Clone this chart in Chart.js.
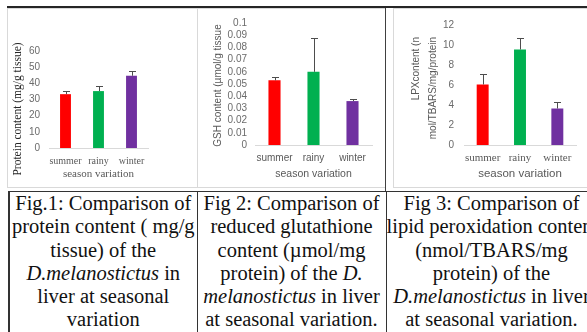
<!DOCTYPE html>
<html lang="en">
<head>
<meta charset="UTF-8">
<title>Seasonal variation - D. melanostictus liver</title>
<style>
  html, body { margin: 0; padding: 0; background: #fff; overflow: hidden; width: 587px; height: 332px; }
  .line { position: absolute; box-sizing: border-box; }
  canvas { position: absolute; }
  table.cap {
    position: absolute; left: 8px; top: 191px; width: 588px;
    border-collapse: collapse; table-layout: fixed;
    font-family: "Liberation Serif", "Times New Roman", serif;
    font-size: 20.5px; line-height: 23.3px; letter-spacing: 0; color: #111;
  }
  table.cap td {
    border: 1px solid #333; padding: 0; text-align: center; vertical-align: top;
    white-space: nowrap; overflow: hidden; height: 150px;
  }
  table.cap td:first-child { border-left: 2px solid #333; }
</style>
</head>
<body>
  <div class="line" style="left:7px;top:6px;width:580px;height:2px;background:#262626"></div>
  <div class="line" style="left:7px;top:8px;width:191px;height:180px;border:1px solid #d9d9d9"></div>
  <div class="line" style="left:197px;top:8px;width:189px;height:180px;border:1px solid #d9d9d9"></div>
  <div class="line" style="left:385px;top:8px;width:1px;height:184px;background:#404040"></div>
  <div class="line" style="left:393px;top:8px;width:200px;height:180px;border:1px solid #d9d9d9"></div>

  <canvas id="protein" width="189" height="178" style="left:8px;top:9px"></canvas>
  <canvas id="gsh" width="186" height="178" style="left:198px;top:9px"></canvas>
  <canvas id="lpx" width="193" height="178" style="left:394px;top:9px"></canvas>

  <table class="cap">
    <colgroup><col style="width:188px"><col style="width:189px"><col style="width:211px"></colgroup>
    <tr>
      <td>Fig.1: Comparison of<br>protein content ( mg/g<br>tissue) of the<br><i>D.melanostictus</i> in<br>liver at seasonal<br>variation</td>
      <td>Fig 2: Comparison of<br>reduced glutathione<br>content (µmol/mg<br>protein) of the <i>D.</i><br><i>melanostictus</i> in liver<br>at seasonal variation.</td>
      <td>Fig 3: Comparison of<br>lipid peroxidation content<br>(nmol/TBARS/mg<br>protein) of the<br><i>D.melanostictus</i> in liver<br>at seasonal variation.</td>
    </tr>
  </table>

  <script src="https://cdn.jsdelivr.net/npm/chart.js@4.4.1/dist/chart.umd.min.js"></script>
  <script>
    const seasons = ['summer', 'rainy', 'winter'];
    const barColors = ['#ff0000', '#00b050', '#7030a0'];

    const proteinMeans = [33.3, 35.2, 44.7];
    const proteinErrors = [2.1, 3.1, 3.1];

    const gshMeans = [0.053, 0.060, 0.036];
    const gshErrors = [0.0025, 0.028, 0.002];

    const lpxMeans = [6.05, 9.55, 3.65];
    const lpxErrors = [1.1, 1.15, 0.65];

    const SANS = '"Liberation Sans", Arial, sans-serif';
    const SERIF = '"Liberation Serif", "Times New Roman", serif';

    // plus-only error bars, taken from the y scale
    const errorBars = {
      id: 'errorBars',
      afterDatasetsDraw(chart, args, opts) {
        const ctx = chart.ctx, y = chart.scales.y;
        const vals = chart.data.datasets[0].data;
        chart.getDatasetMeta(0).data.forEach((bar, i) => {
          const top = Math.round(y.getPixelForValue(vals[i] + opts.errors[i])) + 0.5;
          const x = Math.round(bar.x) + 0.5;
          ctx.save();
          ctx.strokeStyle = '#4d4d4d';
          ctx.lineWidth = 1;
          ctx.beginPath();
          ctx.moveTo(x, bar.y);
          ctx.lineTo(x, top);
          ctx.moveTo(x - 3.5, top);
          ctx.lineTo(x + 3.5, top);
          ctx.stroke();
          ctx.restore();
        });
      }
    };

    // axis titles placed against the chart area
    const axisText = {
      id: 'axisText',
      afterDraw(chart, args, o) {
        const ctx = chart.ctx, a = chart.chartArea;
        ctx.save();
        ctx.fillStyle = o.xColor;
        ctx.font = o.xFont;
        ctx.textAlign = 'center';
        ctx.textBaseline = 'middle';
        ctx.fillText(o.xTitle, (a.left + a.right) / 2, a.bottom + o.xOffset);
        ctx.fillStyle = o.yColor;
        ctx.font = o.yFont;
        o.yLines.forEach(l => {
          ctx.save();
          const cy = o.yAlign === 'end' ? a.top + o.yOffset : (a.top + a.bottom) / 2 + o.yOffset;
          ctx.translate(a.left + l.dx, cy);
          ctx.rotate(-Math.PI / 2);
          ctx.textAlign = o.yAlign === 'end' ? 'right' : 'center';
          ctx.fillText(l.text, 0, 0);
          ctx.restore();
        });
        ctx.restore();
      }
    };

    function build(id, means, errors, c) {
      new Chart(document.getElementById(id), {
        type: 'bar',
        data: {
          labels: seasons,
          datasets: [{
            data: means,
            backgroundColor: barColors,
            borderWidth: 0,
            barPercentage: c.barPct,
            categoryPercentage: 1
          }]
        },
        options: {
          responsive: false,
          animation: false,
          events: [],
          layout: { padding: c.padding },
          plugins: {
            legend: { display: false },
            tooltip: { enabled: false },
            errorBars: { errors: errors },
            axisText: c.text
          },
          scales: {
            x: {
              grid: { display: false, drawTicks: false },
              border: { display: true, color: '#d9d9d9', width: 1 },
              ticks: { color: '#595959', padding: 7, font: c.xTickFont, maxRotation: 0, autoSkip: false },
              afterFit(s) { s.height = 30; }
            },
            y: {
              min: 0, max: c.max,
              grid: { display: false, drawTicks: false },
              border: { display: false },
              ticks: {
                stepSize: c.step, color: '#6b6b6b', padding: c.tickPad, autoSkip: false,
                font: { family: SANS, size: 10 },
                callback: v => String(+v.toFixed(3))
              },
              afterFit(s) { s.width = c.yWidth; }
            }
          }
        },
        plugins: [errorBars, axisText]
      });
    }

    build('protein', proteinMeans, proteinErrors, {
      max: 60, step: 10, barPct: 0.33, yWidth: 30, tickPad: 9,
      padding: { left: 11, right: 49, top: 42, bottom: 9 },
      xTickFont: { family: SERIF, size: 10 },
      text: {
        xTitle: 'season variation', xFont: '11px ' + SERIF, xColor: '#595959', xOffset: 26,
        yLines: [{ text: 'Protein content (mg/g tissue)', dx: -31 }],
        yFont: '11.5px ' + SERIF, yColor: '#262626', yAlign: 'center', yOffset: 9.5
      }
    });

    build('gsh', gshMeans, gshErrors, {
      max: 0.1, step: 0.01, barPct: 0.31, yWidth: 40, tickPad: 8,
      padding: { left: 17, right: 12, top: 10, bottom: 12 },
      xTickFont: { family: SANS, size: 10 },
      text: {
        xTitle: 'season variation', xFont: '10.5px ' + SANS, xColor: '#595959', xOffset: 29,
        yLines: [{ text: 'GSH content (µmol/g tissue', dx: -36.5 }],
        yFont: '10px ' + SANS, yColor: '#595959', yAlign: 'center', yOffset: 1.5
      }
    });

    build('lpx', lpxMeans, lpxErrors, {
      max: 12, step: 2, barPct: 0.32, yWidth: 30, tickPad: 10,
      padding: { left: 40, right: 11, top: 11, bottom: 12 },
      xTickFont: { family: SERIF, size: 11 },
      text: {
        xTitle: 'season variation', xFont: '11.5px ' + SANS, xColor: '#595959', xOffset: 29,
        yLines: [{ text: 'LPXcontent (n', dx: -47.5 }, { text: 'mol/TBARS/mg/protein', dx: -30.5 }],
        yFont: '10px ' + SANS, yColor: '#595959', yAlign: 'end', yOffset: 12
      }
    });
  </script>
</body>
</html>
